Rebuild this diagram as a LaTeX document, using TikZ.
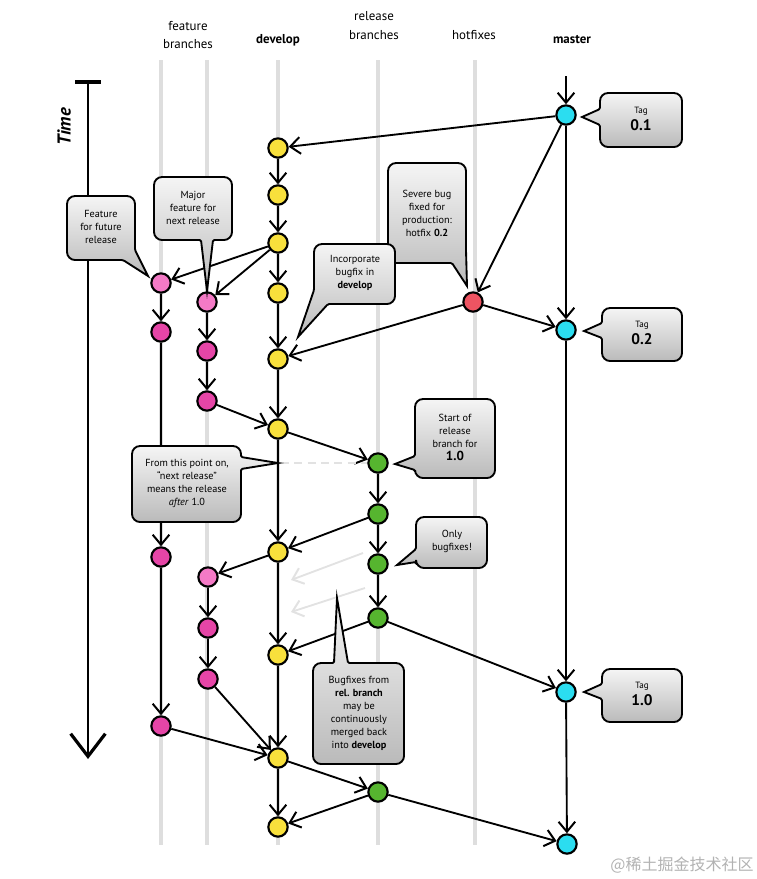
\documentclass[tikz,border=0pt]{standalone}
\usepackage{fontspec}
\setmainfont{PT Sans}
\newfontfamily\cjkfont{Noto Sans CJK SC}
\usetikzlibrary{arrows.meta}
\definecolor{cyanc}{HTML}{2BDDF0}
\definecolor{yellowc}{HTML}{F8E03C}
\definecolor{redc}{HTML}{EE5462}
\definecolor{greenc}{HTML}{56B52F}
\definecolor{pinkc}{HTML}{F47AC6}
\definecolor{magc}{HTML}{E645A7}
\definecolor{lanec}{HTML}{DEDEDE}
\definecolor{ghostc}{HTML}{E2E2E2}
\pgfdeclarelayer{lanes}
\pgfdeclarelayer{edges}
\pgfsetlayers{lanes,edges,main}
\tikzset{
  commit/.style={circle, draw=black, line width=1.6pt, minimum size=14.5pt, inner sep=0pt},
  conn/.style={line width=1.4pt, -{Straight Barb[length=7.5pt,width=12.5pt,line width=1.5pt]}},
  ghost/.style={conn, draw=ghostc},
  lane/.style={draw=lanec, line width=2.4pt},
  bubble/.style={draw=black, line width=1.4pt, top color=white!96!black, bottom color=black!27, rounded corners=6pt},
  btext/.style={align=center, font=\fontsize{7.7}{9.75}\selectfont, inner sep=0pt},
  head/.style={align=center, font=\fontsize{9.7}{14.2}\selectfont, inner sep=0pt},
  tagtext/.style={align=center, inner sep=0pt},
}
\begin{document}
\begin{tikzpicture}[x=0.75pt,y=-0.75pt]
\useasboundingbox (0,0) rectangle (757,879);

% headers
\node[head] (hFeat) at (188,35) {feature\\branches};
\node[head, font=\fontsize{9.7}{14.2}\selectfont\bfseries] (hDev) at (278,40) {develop};
\node[head] (hRel) at (374,26) {release\\branches};
\node[head] (hHot) at (474,35) {hotfixes};
\node[head, font=\fontsize{9.7}{14.2}\selectfont\bfseries] (hMas) at (572,40) {master};

% time axis
\node[rotate=90, font=\fontsize{14}{14}\selectfont\bfseries\itshape, inner sep=0pt] (time) at (64,127) {Time};
\coordinate (tTop) at (88,82);
\coordinate (tBot) at (88,759);
\draw[line width=3pt] (75,82) -- (101,82);
\draw[line width=2.2pt, -{Straight Barb[length=17pt,width=26pt,line width=2.4pt]}] (tTop) -- (tBot);

% lanes
\begin{pgfonlayer}{lanes}
\foreach \x in {161,207,278,378,475}{
  \draw[lane] (\x,60) -- (\x,845);
}
\end{pgfonlayer}

% commits
\node[commit, fill=cyanc] (m1) at (566,115) {};
\node[commit, fill=cyanc] (m2) at (566,330) {};
\node[commit, fill=cyanc] (m3) at (566,692) {};
\node[commit, fill=cyanc] (m4) at (567,844) {};
\coordinate (mTop) at (566,76);

\node[commit, fill=yellowc] (d1) at (278,148) {};
\node[commit, fill=yellowc] (d2) at (278,195) {};
\node[commit, fill=yellowc] (d3) at (278,243) {};
\node[commit, fill=yellowc] (d4) at (278,293) {};
\node[commit, fill=yellowc] (d5) at (278,359) {};
\node[commit, fill=yellowc] (d6) at (278,429) {};
\node[commit, fill=yellowc] (d7) at (278,552) {};
\node[commit, fill=yellowc] (d8) at (278,655) {};
\node[commit, fill=yellowc] (d9) at (278,758) {};
\node[commit, fill=yellowc] (d10) at (278,827) {};

\node[commit, fill=redc] (h1) at (473,302) {};

\node[commit, fill=pinkc] (f1a) at (161,283) {};
\node[commit, fill=magc] (f1b) at (161,332) {};
\node[commit, fill=magc] (f1c) at (161,557) {};
\node[commit, fill=magc] (f1d) at (161,726) {};

\node[commit, fill=pinkc] (f2a) at (207,302) {};
\node[commit, fill=magc] (f2b) at (207,351) {};
\node[commit, fill=magc] (f2c) at (207,401) {};
\node[commit, fill=pinkc] (f2d) at (208,577) {};
\node[commit, fill=magc] (f2e) at (208,628) {};
\node[commit, fill=magc] (f2f) at (208,679) {};

\node[commit, fill=greenc] (r1) at (378,463) {};
\node[commit, fill=greenc] (r2) at (378,514) {};
\node[commit, fill=greenc] (r3) at (378,564) {};
\node[commit, fill=greenc] (r4) at (378,618) {};
\node[commit, fill=greenc] (r5) at (378,792) {};

% connectors
\begin{pgfonlayer}{edges}
\draw[conn] (mTop) -- (m1);
\draw[conn] (m1) -- (d1);
\draw[conn] (m1) -- (h1);
\draw[conn] (m1) -- (m2);
\draw[conn] (h1) -- (m2);
\draw[conn] (h1) -- (d5);
\draw[conn] (m2) -- (m3);
\draw[conn] (m3) -- (m4);
\draw[conn] (d1) -- (d2);
\draw[conn] (d2) -- (d3);
\draw[conn] (d3) -- (d4);
\draw[conn] (d4) -- (d5);
\draw[conn] (d5) -- (d6);
\draw[conn] (d6) -- (d7);
\draw[conn] (d7) -- (d8);
\draw[conn] (d8) -- (d9);
\draw[conn] (d9) -- (d10);
\draw[conn] (d3) -- (f1a);
\draw[conn] (d3) -- (f2a);
\draw[conn] (f1a) -- (f1b);
\draw[conn] (f1b) -- (f1c);
\draw[conn] (f1c) -- (f1d);
\draw[conn] (f2a) -- (f2b);
\draw[conn] (f2b) -- (f2c);
\draw[conn] (f2c) -- (d6);
\draw[conn] (d6) -- (r1);
\draw[conn] (r1) -- (r2);
\draw[conn] (r2) -- (r3);
\draw[conn] (r3) -- (r4);
\draw[conn] (r2) -- (d7);
\draw[conn] (d7) -- (f2d);
\draw[conn] (f2d) -- (f2e);
\draw[conn] (f2e) -- (f2f);
\draw[conn] (f2f) -- (d9);
\draw[conn] (f1d) -- (d9);
\draw[conn] (r4) -- (d8);
\draw[conn] (r4) -- (m3);
\draw[conn] (d9) -- (r5);
\draw[conn] (r5) -- (d10);
\draw[conn] (r5) -- (m4);
\coordinate (g1s) at (363,553);
\coordinate (g1e) at (291,580);
\coordinate (g2s) at (365,588);
\coordinate (g2e) at (291,612);
\draw[ghost] (g1s) -- (g1e);
\draw[ghost] (g2s) -- (g2e);
\coordinate (dashS) at (281,463);
\draw[draw=ghostc, line width=1.4pt, dash pattern=on 6pt off 4pt] (dashS) -- (r1);
\end{pgfonlayer}

% callouts
% Tag 0.1
\path[bubble] (641,93) -- (682,93) -- (682,147) -- (600,147) [rounded corners=1pt] -- (600,125) [sharp corners] -- (582,117) [rounded corners=1pt] -- (600,109) [rounded corners=6pt] -- (600,93) -- cycle;
\node[tagtext] (tag1) at (641,119) {{\fontsize{6.8}{7}\selectfont Tag}\\[1pt]{\fontsize{11.5}{11}\selectfont\bfseries 0.1}};
% Tag 0.2
\path[bubble] (642,308) -- (682,308) -- (682,361) -- (602,361) [rounded corners=1pt] -- (602,338) [sharp corners] -- (584,331) [rounded corners=1pt] -- (602,323) [rounded corners=6pt] -- (602,308) -- cycle;
\node[tagtext] (tag2) at (642,333) {{\fontsize{6.8}{7}\selectfont Tag}\\[1pt]{\fontsize{11.5}{11}\selectfont\bfseries 0.2}};
% Tag 1.0
\path[bubble] (642,669) -- (682,669) -- (682,722) -- (602,722) [rounded corners=1pt] -- (602,699) [sharp corners] -- (584,692) [rounded corners=1pt] -- (602,684) [rounded corners=6pt] -- (602,669) -- cycle;
\node[tagtext] (tag3) at (642,694) {{\fontsize{6.8}{7}\selectfont Tag}\\[1pt]{\fontsize{11.5}{11}\selectfont\bfseries 1.0}};
% Feature for future release
\path[bubble] (101,196) -- (135,196) [rounded corners=1pt] -- (135,250) [sharp corners] -- (148,276) [rounded corners=1pt] -- (123,260) [rounded corners=6pt] -- (67,260) -- (67,196) -- cycle;
\node[btext] (cFut) at (101,227) {Feature\\for future\\release};
% Major feature
\path[bubble] (193,177) -- (232,177) -- (232,240) [rounded corners=1pt] -- (213,240) [sharp corners] -- (207,291) [rounded corners=1pt] -- (201,240) [rounded corners=6pt] -- (154,240) -- (154,177) -- cycle;
\node[btext] (cMaj) at (193,208) {Major\\feature for\\next release};
% Severe bug
\path[bubble] (427,163) -- (466,163) [rounded corners=1pt] -- (466,250) [sharp corners] -- (467,286) [rounded corners=1pt] -- (452,263) [rounded corners=6pt] -- (388,263) -- (388,163) -- cycle;
\node[btext] (cSev) at (427,213) {Severe bug\\fixed for\\production:\\hotfix \textbf{0.2}};
% Incorporate bugfix
\path[bubble] (355,244) -- (395,244) -- (395,304) [rounded corners=1pt] -- (328,304) [sharp corners] -- (298,337) [rounded corners=1pt] -- (314,290) [rounded corners=6pt] -- (314,244) -- cycle;
\node[btext] (cInc) at (355,273) {Incorporate\\bugfix in\\\textbf{develop}};
% Start of release branch
\path[bubble] (455,399) -- (495,399) -- (495,478) -- (415,478) [rounded corners=1pt] -- (415,470) [sharp corners] -- (395,464) [rounded corners=1pt] -- (415,456) [rounded corners=6pt] -- (415,399) -- cycle;
\node[btext] (cSta) at (455,437) {Start of\\release\\branch for\\{\fontsize{9.8}{11}\selectfont\bfseries 1.0}};
% From this point on
\path[bubble] (186,446) -- (241,446) [rounded corners=1pt] -- (241,457) [sharp corners] -- (278,463) [rounded corners=1pt] -- (241,469) [rounded corners=6pt] -- (241,522) -- (132,522) -- (132,446) -- cycle;
\node[btext] (cFro) at (187,483) {From this point on,\\“next release”\\means the release\\\textit{after} 1.0};
% Only bugfixes
\path[bubble] (452,517) -- (487,517) -- (487,568) -- (416,568) [rounded corners=1pt] -- (416,562) [sharp corners] -- (397,565) [rounded corners=1pt] -- (416,549) [rounded corners=6pt] -- (416,517) -- cycle;
\node[btext] (cOnl) at (452,541) {Only\\bugfixes!};
% Bugfixes from rel. branch
\path[bubble] (359,663) -- (404,663) -- (404,764) -- (313,764) -- (313,663) [rounded corners=1pt] -- (334,663) [sharp corners] -- (337,598) [rounded corners=1pt] -- (348,663) [rounded corners=6pt] -- cycle;
\node[btext] (cBug) at (359,713) {Bugfixes from\\\textbf{rel. branch}\\may be\\continuously\\merged back\\into \textbf{develop}};

% watermark
\node[inner sep=0pt, text=black!30, font=\cjkfont\fontsize{12}{12}\selectfont] (wm) at (682,865) {@稀土掘金技术社区};
\end{tikzpicture}
\end{document}
